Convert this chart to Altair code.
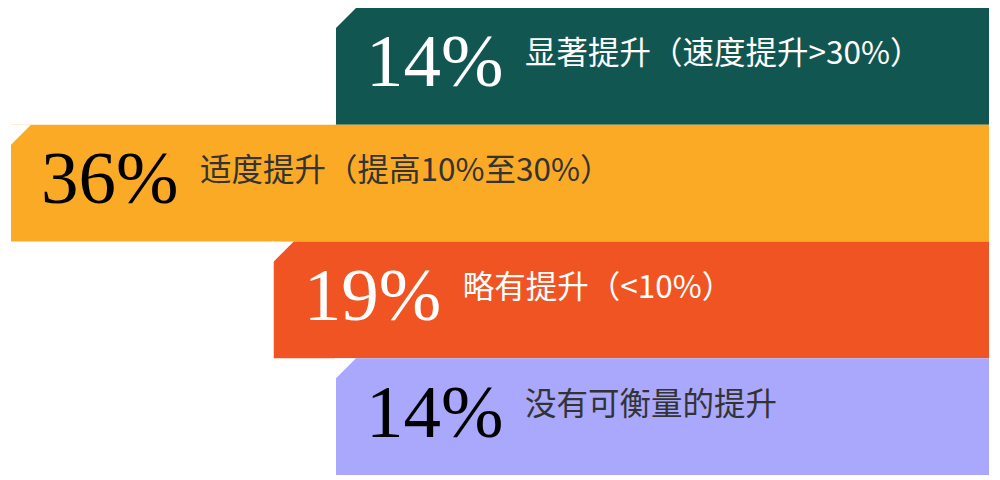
import altair as alt
import pandas as pd

labels = ["显著提升（速度提升>30%）", "适度提升（提高10%至30%）", "略有提升（<10%）", "没有可衡量的提升"]
values = [14, 36, 19, 14]

bar_colors = ["#125652", "#fbaa25", "#f05423", "#aaa8fc"]
pct_colors = ["#ffffff", "#000000", "#ffffff", "#000000"]
label_colors = ["#ffffff", "#333333", "#ffffff", "#333333"]

df = pd.DataFrame({"label": labels, "value": values})

x_scale = alt.Scale(type="pow", exponent=1.43, domain=[36, -41.6], range=[3, 981])
y_scale = alt.Scale(paddingInner=0, paddingOuter=0)

base = alt.Chart(df)

bars = base.mark_bar(strokeWidth=0).encode(
    x=alt.X("value:Q", scale=x_scale, axis=None),
    x2=alt.datum(-41.6),
    y=alt.Y("label:N", sort=labels, scale=y_scale, axis=None),
    color=alt.Color("label:N", scale=alt.Scale(domain=labels, range=bar_colors), legend=None),
)

chamfer = base.mark_point(
    shape="M-0.1,0L1,0L-0.1,1.1Z", size=1600, filled=True, color="white", strokeWidth=0, opacity=1
).encode(
    x=alt.X("value:Q", scale=x_scale, axis=None),
    y=alt.Y("label:N", sort=labels, scale=y_scale, axis=None, bandPosition=0),
)

pct = base.transform_calculate(pct="datum.value + '%'").mark_text(
    font="Liberation Serif", fontSize=75, align="left", baseline="alphabetic", dx=30, dy=20
).encode(
    x=alt.X("value:Q", scale=x_scale, axis=None),
    y=alt.Y("label:N", sort=labels, scale=y_scale, axis=None),
    text="pct:N",
    color=alt.Color("label:N", scale=alt.Scale(domain=labels, range=pct_colors), legend=None),
)

lab = base.mark_text(
    font="Noto Sans CJK SC", fontSize=31.5, align="left", baseline="middle", dx=189, dy=-11
).encode(
    x=alt.X("value:Q", scale=x_scale, axis=None),
    y=alt.Y("label:N", sort=labels, scale=y_scale, axis=None),
    text="label:N",
    color=alt.Color("label:N", scale=alt.Scale(domain=labels, range=label_colors), legend=None),
)

chart = (
    alt.layer(bars, chamfer, pct, lab)
    .resolve_scale(color="independent")
    .properties(width=984, height=467, padding=0, background="white")
    .configure_view(stroke=None)
)

chart.save("out.html", embed_options={"renderer": "svg", "actions": False})
